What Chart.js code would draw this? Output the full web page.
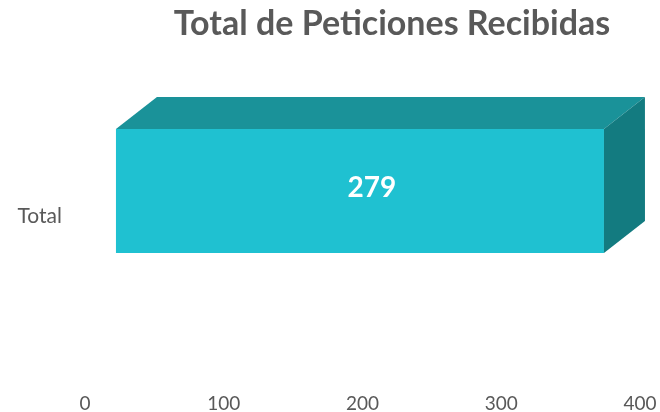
<!DOCTYPE html>
<html>
<head>
<meta charset="utf-8">
<script src="https://cdn.jsdelivr.net/npm/chart.js@4/dist/chart.umd.min.js"></script>
<style>
  html, body { margin: 0; padding: 0; background: #fff; }
  .wrap { position: relative; width: 660px; height: 412px; }
  .title {
    position: absolute; top: 5px; left: 392px; transform: translateX(-50%);
    font: bold 34px Lato, sans-serif; line-height: 1; color: #595959; white-space: nowrap;
  }
</style>
</head>
<body>
<div class="wrap">
  <canvas id="chart" width="660" height="412"></canvas>
  <div class="title">Total de Peticiones Recibidas</div>
</div>
<script>
// ========== DATA ==========
const categories = ['Total'];
const values = [279];
const tickValues = [0, 100, 200, 300, 400];

// ========== COLORS ==========
const frontColor = '#1FC1D1';
const topColor = '#1A9299';
const sideColor = '#137B80';
const textColor = '#595959';

// 3D depth of the bar (back face offset)
const DEPTH_X = 41;
const DEPTH_Y = -32;

// ========== 3D BAR PLUGIN ==========
const bar3d = {
  id: 'bar3d',
  afterDatasetsDraw(chart) {
    const ctx = chart.ctx;
    const meta = chart.getDatasetMeta(0);
    meta.data.forEach((bar, i) => {
      const left = bar.base;
      const right = bar.x;
      const top = bar.y - bar.height / 2;
      const bottom = bar.y + bar.height / 2;

      ctx.save();
      // top face
      ctx.fillStyle = topColor;
      ctx.beginPath();
      ctx.moveTo(left, top);
      ctx.lineTo(left + DEPTH_X, top + DEPTH_Y);
      ctx.lineTo(right + DEPTH_X, top + DEPTH_Y);
      ctx.lineTo(right, top);
      ctx.closePath();
      ctx.fill();

      // right side face
      ctx.fillStyle = sideColor;
      ctx.beginPath();
      ctx.moveTo(right, top);
      ctx.lineTo(right + DEPTH_X, top + DEPTH_Y);
      ctx.lineTo(right + DEPTH_X, bottom + DEPTH_Y);
      ctx.lineTo(right, bottom);
      ctx.closePath();
      ctx.fill();

      // value label
      ctx.fillStyle = '#ffffff';
      ctx.font = 'bold 28px Lato, sans-serif';
      ctx.textAlign = 'center';
      ctx.textBaseline = 'middle';
      ctx.fillText(String(values[i]), (left + right) / 2 + 12, bar.y - 3);
      ctx.restore();
    });
  }
};

// ========== CHART ==========
new Chart(document.getElementById('chart'), {
  type: 'bar',
  data: {
    labels: categories,
    datasets: [{
      data: values,
      backgroundColor: frontColor,
      borderWidth: 0,
      xAxisID: 'xBar',
      yAxisID: 'y',
      categoryPercentage: 1,
      barPercentage: 0.473
    }]
  },
  options: {
    indexAxis: 'y',
    responsive: false,
    animation: false,
    layout: { padding: { left: 14, right: 20, top: 60, bottom: 0 } },
    plugins: {
      legend: { display: false },
      tooltip: { enabled: false }
    },
    scales: {
      x: {
        type: 'linear',
        position: 'bottom',
        min: tickValues[0],
        max: tickValues[tickValues.length - 1],
        afterBuildTicks: scale => { scale.ticks = tickValues.map(v => ({ value: v })); },
        grid: { display: false, drawTicks: false },
        border: { display: false },
        ticks: { color: textColor, font: { family: 'Lato', size: 19 }, padding: 70, maxRotation: 0 },
        afterFit: scale => {
          scale.height = 90;
          scale.paddingLeft = 0;
          scale.paddingRight = 0;
        }
      },
      // front plane of the 3D bar sits on its own axis
      xBar: {
        type: 'linear',
        display: false,
        min: -17.7,
        max: 299.6
      },
      y: {
        type: 'category',
        grid: { display: false, drawTicks: false },
        border: { display: false },
        ticks: { color: textColor, font: { family: 'Lato', size: 21 }, padding: 23, labelOffset: 25 },
        afterFit: scale => { scale.width = 71; }
      }
    }
  },
  plugins: [bar3d]
});
</script>
</body>
</html>
